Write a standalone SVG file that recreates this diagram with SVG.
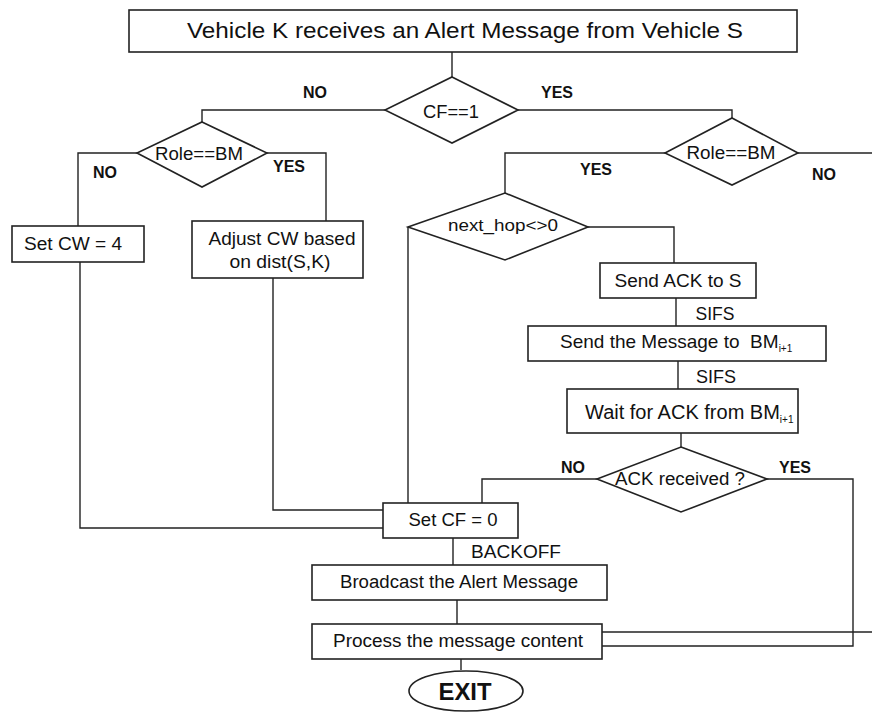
<svg xmlns="http://www.w3.org/2000/svg" width="872" height="712" viewBox="0 0 872 712">
<style>
.box{fill:#fff;stroke:#222;stroke-width:1.6}
.ln{fill:none;stroke:#222;stroke-width:1.4}
.t{font-family:"Liberation Sans",Arial,sans-serif;font-size:18px;fill:#111;text-anchor:middle}
.lb{font-family:"Liberation Sans",Arial,sans-serif;font-size:16px;font-weight:bold;fill:#111;text-anchor:middle}
.sub{font-size:10px}
</style>
<rect width="872" height="712" fill="#fff"/>
<g id="connectors">
<path class="ln" d="M452,52 V77"/>
<path class="ln" d="M385,110 H202 V122"/>
<path class="ln" d="M518,110 H732 V118"/>
<path class="ln" d="M137,153 H78 V226"/>
<path class="ln" d="M267,153 H326 V221"/>
<path class="ln" d="M80,262 V528 H383"/>
<path class="ln" d="M273,278 V510 H383"/>
<path class="ln" d="M665,153 H505 V193"/>
<path class="ln" d="M798,153 H872"/>
<path class="ln" d="M408,227 V503"/>
<path class="ln" d="M588,227 H674 V263"/>
<path class="ln" d="M676,298 V326"/>
<path class="ln" d="M678,361 V389"/>
<path class="ln" d="M681,433 V447"/>
<path class="ln" d="M597,479 H482 V503"/>
<path class="ln" d="M767,479 H853 V646 H602"/>
<path class="ln" d="M602,632 H872"/>
<path class="ln" d="M453,538 V565"/>
<path class="ln" d="M457,600 V624"/>
<path class="ln" d="M461,659 V670"/>
<text class="lb" x="315" y="98">NO</text>
<text class="lb" x="557" y="98">YES</text>
<text class="lb" x="105" y="178">NO</text>
<text class="lb" x="289" y="172">YES</text>
<text class="lb" x="596" y="175">YES</text>
<text class="lb" x="824" y="180">NO</text>
<text class="t" x="715" y="320" textLength="39" lengthAdjust="spacingAndGlyphs">SIFS</text>
<text class="t" x="716" y="383" textLength="40" lengthAdjust="spacingAndGlyphs">SIFS</text>
<text class="lb" x="573" y="473">NO</text>
<text class="lb" x="795" y="473">YES</text>
<text class="t" x="516" y="558" textLength="90" lengthAdjust="spacingAndGlyphs">BACKOFF</text>
</g>
<g id="start">
<rect class="box" x="129" y="10" width="668" height="42"/>
<text class="t" x="465" y="38" style="font-size:22px" textLength="556" lengthAdjust="spacingAndGlyphs">Vehicle K receives an Alert Message from Vehicle S</text>
</g>
<g id="cf1">
<polygon class="box" points="452,77 518,110 452,143 385,110"/>
<text class="t" x="451" y="118" textLength="56" lengthAdjust="spacingAndGlyphs">CF==1</text>
</g>
<g id="role-left">
<polygon class="box" points="202,122 267,153 202,187 137,153"/>
<text class="t" x="199" y="160" textLength="88" lengthAdjust="spacingAndGlyphs">Role==BM</text>
</g>
<g id="setcw">
<rect class="box" x="12" y="226" width="132" height="36"/>
<text class="t" x="73" y="250" textLength="98" lengthAdjust="spacingAndGlyphs">Set CW = 4</text>
</g>
<g id="adjust">
<rect class="box" x="192" y="221" width="171" height="57"/>
<text class="t" x="282" y="245" textLength="147" lengthAdjust="spacingAndGlyphs">Adjust CW based</text>
<text class="t" x="280" y="268" textLength="101" lengthAdjust="spacingAndGlyphs">on dist(S,K)</text>
</g>
<g id="role-right">
<polygon class="box" points="732,118 798,153 732,185 665,153"/>
<text class="t" x="731" y="159" textLength="89" lengthAdjust="spacingAndGlyphs">Role==BM</text>
</g>
<g id="nexthop">
<polygon class="box" points="505,193 588,227 505,260 408,227"/>
<text class="t" x="503" y="231" style="font-size:17px" textLength="110" lengthAdjust="spacingAndGlyphs">next_hop&lt;&gt;0</text>
</g>
<g id="sendack">
<rect class="box" x="600" y="263" width="156" height="35"/>
<text class="t" x="678" y="287" textLength="127" lengthAdjust="spacingAndGlyphs">Send ACK to S</text>
</g>
<g id="sendmsg">
<rect class="box" x="528" y="326" width="298" height="35"/>
<text class="t" x="560" y="348" style="font-size:19px;text-anchor:start;white-space:pre">Send the Message to  BM<tspan class="sub" dy="4">i+1</tspan></text>
</g>
<g id="wait">
<rect class="box" x="567" y="389" width="231" height="44"/>
<text class="t" x="585" y="419" style="font-size:20px;text-anchor:start">Wait for ACK from BM<tspan class="sub" dy="4">i+1</tspan></text>
</g>
<g id="ackrec">
<polygon class="box" points="681,447 767,479 681,512 597,479"/>
<text class="t" x="680" y="485" textLength="130" lengthAdjust="spacingAndGlyphs">ACK received ?</text>
</g>
<g id="setcf">
<rect class="box" x="383" y="503" width="135" height="35"/>
<text class="t" x="453" y="526" textLength="89" lengthAdjust="spacingAndGlyphs">Set CF = 0</text>
</g>
<g id="broadcast">
<rect class="box" x="312" y="565" width="295" height="35"/>
<text class="t" x="459" y="588" textLength="238" lengthAdjust="spacingAndGlyphs">Broadcast the Alert Message</text>
</g>
<g id="process">
<rect class="box" x="312" y="624" width="290" height="35"/>
<text class="t" x="458" y="647" textLength="250" lengthAdjust="spacingAndGlyphs">Process the message content</text>
</g>
<g id="exit">
<ellipse class="box" cx="466" cy="691" rx="57" ry="20"/>
<text class="lb" x="465" y="700" style="font-size:24px" textLength="53" lengthAdjust="spacingAndGlyphs">EXIT</text>
</g>
</svg>
